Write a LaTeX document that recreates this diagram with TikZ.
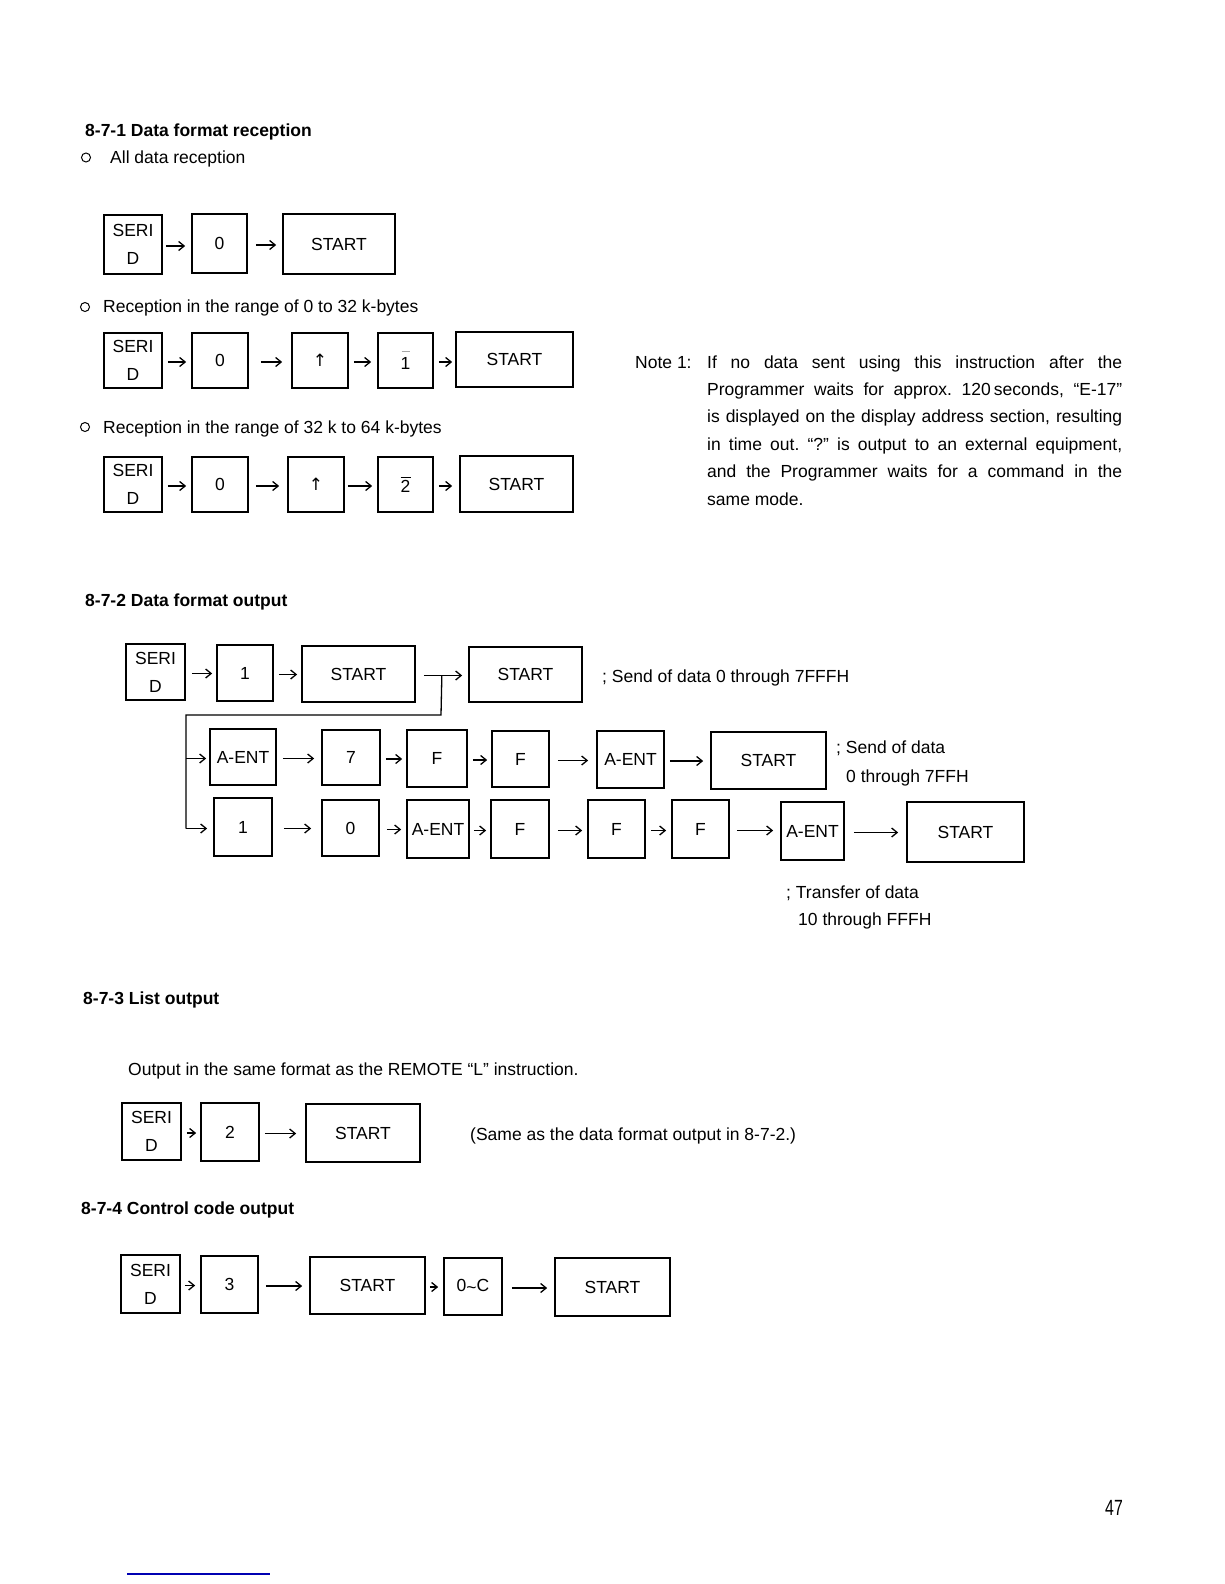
\documentclass[tikz,border=0pt]{standalone}
\usepackage{fontspec}
\usepackage{graphicx}
\setmainfont{Liberation Sans}
\newfontfamily\dvfont{DejaVu Sans}
\usetikzlibrary{arrows.meta}
\frenchspacing
\newcommand{\myfs}{\fontsize{17.5}{28}\selectfont}
\newcommand{\kbox}[6]{\node[box, minimum width={(#4)-(#2)}, minimum height={(#5)-(#3)}] (#1) at ({((#2)+(#4))/2},{((#3)+(#5))/2}) {#6};}
\newcommand{\myarr}[4]{\draw[arr, shorten <=#3pt, shorten >=#4pt] ([yshift=-1.5pt]#1.east) -- ([yshift=-1.5pt]#1.east -| #2.west);}
\newcommand{\barone}{\leavevmode\rlap{\hspace{1pt}\color{black!35}\rule[18pt]{8pt}{0.7pt}}1}
\newcommand{\bartwo}{\leavevmode\rlap{\rule[15pt]{10pt}{1pt}}2}
\newcommand{\uparr}{{\dvfont\fontsize{17}{17}\selectfont ↑}}
\tikzset{
  box/.style={draw, line width=1.7pt, inner sep=0pt, font=\myfs, align=center},
  arr/.style={line width=1.3pt, -{Straight Barb[length=5.5pt,width=9pt]}},
  conn/.style={line width=1.3pt},
  txt/.style={anchor=base west, inner sep=0pt, font=\myfs},
  head/.style={anchor=base west, inner sep=0pt, font=\myfs\bfseries},
  bullet/.style={draw, circle, line width=1pt, minimum size=9pt, inner sep=0pt},
}
\begin{document}
\begin{tikzpicture}[x=1pt,y=-1pt]
\useasboundingbox (0,0) rectangle (1224,1584);

% ---------- 8-7-1 ----------
\node[head] (h1) at (85,136) {8-7-1 Data format reception};
\node[bullet] (b1) at (86,157.5) {};
\node[txt] (t1) at (110,164) {All data reception};

\kbox{ra}{104}{215}{162}{274}{SERI\\D}
\kbox{rb}{192}{214}{247}{273}{0}
\kbox{rc}{283}{214}{395}{274}{START}
\myarr{ra}{rb}{3}{6}
\myarr{rb}{rc}{8}{6}

\node[bullet] (b2) at (85,307) {};
\node[txt] (t2) at (103,312) {Reception in the range of 0 to 32 k-bytes};

\kbox{sa}{104}{333}{162}{388}{SERI\\D}
\kbox{sb}{192}{333}{248}{388}{0}
\kbox{sc}{292}{333}{348}{388}{\uparr}
\kbox{sd}{378}{333}{433}{388}{\barone}
\kbox{se}{456}{332}{573}{387}{START}
\myarr{sa}{sb}{5}{5}
\myarr{sb}{sc}{12}{9}
\myarr{sc}{sd}{5}{6}
\myarr{sd}{se}{5}{3}

\node[bullet] (b3) at (85,427) {};
\node[txt] (t3) at (103,433) {Reception in the range of 32 k to 64 k-bytes};

\kbox{ua}{104}{457}{162}{512}{SERI\\D}
\kbox{ub}{192}{457}{248}{512}{0}
\kbox{uc}{288}{457}{344}{512}{\uparr}
\kbox{ud}{378}{457}{433}{512}{\bartwo}
\kbox{ue}{460}{456}{573}{512}{START}
\myarr{ua}{ub}{5}{5}
\myarr{ub}{uc}{7}{8}
\myarr{uc}{ud}{3}{5}
\myarr{ud}{ue}{5}{7}

% Note
\node[txt] (n0) at (635,368) {Note 1:};
\node[txt] (n1) at (707,368) {\makebox[415pt][s]{If no data sent using this instruction after the}};
\node[txt] (n2) at (707,395) {\makebox[415pt][s]{Programmer waits for approx. 120\,seconds, ``E-17''}};
\node[txt] (n3) at (707,422) {\makebox[415pt][s]{is displayed on the display address section, resulting}};
\node[txt] (n4) at (707,450) {\makebox[415pt][s]{in time out. ``?'' is output to an external equipment,}};
\node[txt] (n5) at (707,477) {\makebox[415pt][s]{and the Programmer waits for a command in the}};
\node[txt] (n6) at (707,505) {same mode.};

% ---------- 8-7-2 ----------
\node[head] (h2) at (85,606) {8-7-2 Data format output};

\kbox{A1}{126}{644}{185}{700}{SERI\\D}
\kbox{A2}{217}{645}{273}{701}{1}
\kbox{A3}{302}{646}{415}{702}{START}
\kbox{A4}{469}{647}{582}{702}{START}
\myarr{A1}{A2}{6}{4}
\myarr{A2}{A3}{5}{4}
\myarr{A3}{A4}{8}{6}
\node[txt] (la) at (602,682) {; Send of data 0 through 7FFFH};

\kbox{B1}{210}{729}{276}{785}{A-ENT}
\kbox{B2}{322}{730}{380}{785}{7}
\kbox{B3}{407}{730}{467}{787}{F}
\kbox{B4}{492}{731}{549}{787}{F}
\kbox{B5}{597}{731}{664}{788}{A-ENT}
\kbox{B6}{711}{732}{826}{789}{START}
\myarr{B1}{B2}{6}{7}
\myarr{B2}{B3}{5}{4}
\myarr{B3}{B4}{5}{4}
\myarr{B4}{B5}{8}{8}
\myarr{B5}{B6}{5}{7}
\node[txt] (lb1) at (836,753) {; Send of data};
\node[txt] (lb2) at (846,782) {0 through 7FFH};

\kbox{C1}{214}{798}{272}{856}{1}
\kbox{C2}{322}{800}{379}{856}{0}
\kbox{C3}{407}{800}{469}{858}{A-ENT}
\kbox{C4}{491}{800}{549}{858}{F}
\kbox{C5}{588}{800}{645}{858}{F}
\kbox{C6}{672}{800}{729}{858}{F}
\kbox{C7}{781}{802}{844}{860}{A-ENT}
\kbox{C8}{907}{802}{1024}{862}{START}
\myarr{C1}{C2}{11}{10}
\myarr{C2}{C3}{7}{5}
\myarr{C3}{C4}{4}{4}
\myarr{C4}{C5}{8}{5}
\myarr{C5}{C6}{5}{5}
\myarr{C6}{C7}{7}{7}
\myarr{C7}{C8}{9}{8}
\node[txt] (lc1) at (786,898) {; Transfer of data};
\node[txt] (lc2) at (798,925) {10 through FFFH};

% branch
\coordinate (jA) at ([xshift=26pt,yshift=-1.5pt]A3.east);
\coordinate (jB) at (441,715);
\coordinate (jC) at (186,715);
\draw[conn] (jA) -- (jB) -- (jC) -- ([yshift=-1.5pt]jC |- C1.west);
\draw[arr, shorten >=3pt] ([yshift=-1.5pt]jC |- B1.west) -- ([yshift=-1.5pt]B1.west);
\draw[arr, shorten >=6pt] ([yshift=-1.5pt]jC |- C1.west) -- ([yshift=-1.5pt]C1.west);

% ---------- 8-7-3 ----------
\node[head] (h3) at (83,1004) {8-7-3 List output};
\node[txt] (t4) at (128,1075) {Output in the same format as the REMOTE ``L'' instruction.};

\kbox{D1}{122}{1103}{181}{1160}{SERI\\D}
\kbox{D2}{201}{1103}{259}{1161}{2}
\kbox{D3}{306}{1104}{420}{1162}{START}
\myarr{D1}{D2}{5}{4}
\myarr{D2}{D3}{5}{9}
\node[txt] (t5) at (470,1140) {(Same as the data format output in 8-7-2.)};

% ---------- 8-7-4 ----------
\node[head] (h4) at (81,1214) {8-7-4 Control code output};

\kbox{E1}{121}{1255}{180}{1313}{SERI\\D}
\kbox{E2}{201}{1256}{258}{1313}{3}
\kbox{E3}{310}{1257}{425}{1314}{START}
\kbox{E4}{444}{1258}{502}{1315}{0\raisebox{-0.25ex}{\textasciitilde}C}
\kbox{E5}{555}{1258}{670}{1316}{START}
\myarr{E1}{E2}{4}{5}
\myarr{E2}{E3}{7}{7}
\myarr{E3}{E4}{4}{5}
\myarr{E4}{E5}{9}{7}

% page number and rule
\node[anchor=base west, inner sep=0pt, font=\fontsize{22}{22}\selectfont] (pg) at (1105,1515) {\scalebox{0.72}[1]{47}};
\coordinate (ru1) at (127,1574);
\coordinate (ru2) at (270,1574);
\draw[line width=1.5pt, blue!70!black] (ru1) -- (ru2);
\end{tikzpicture}
\end{document}
